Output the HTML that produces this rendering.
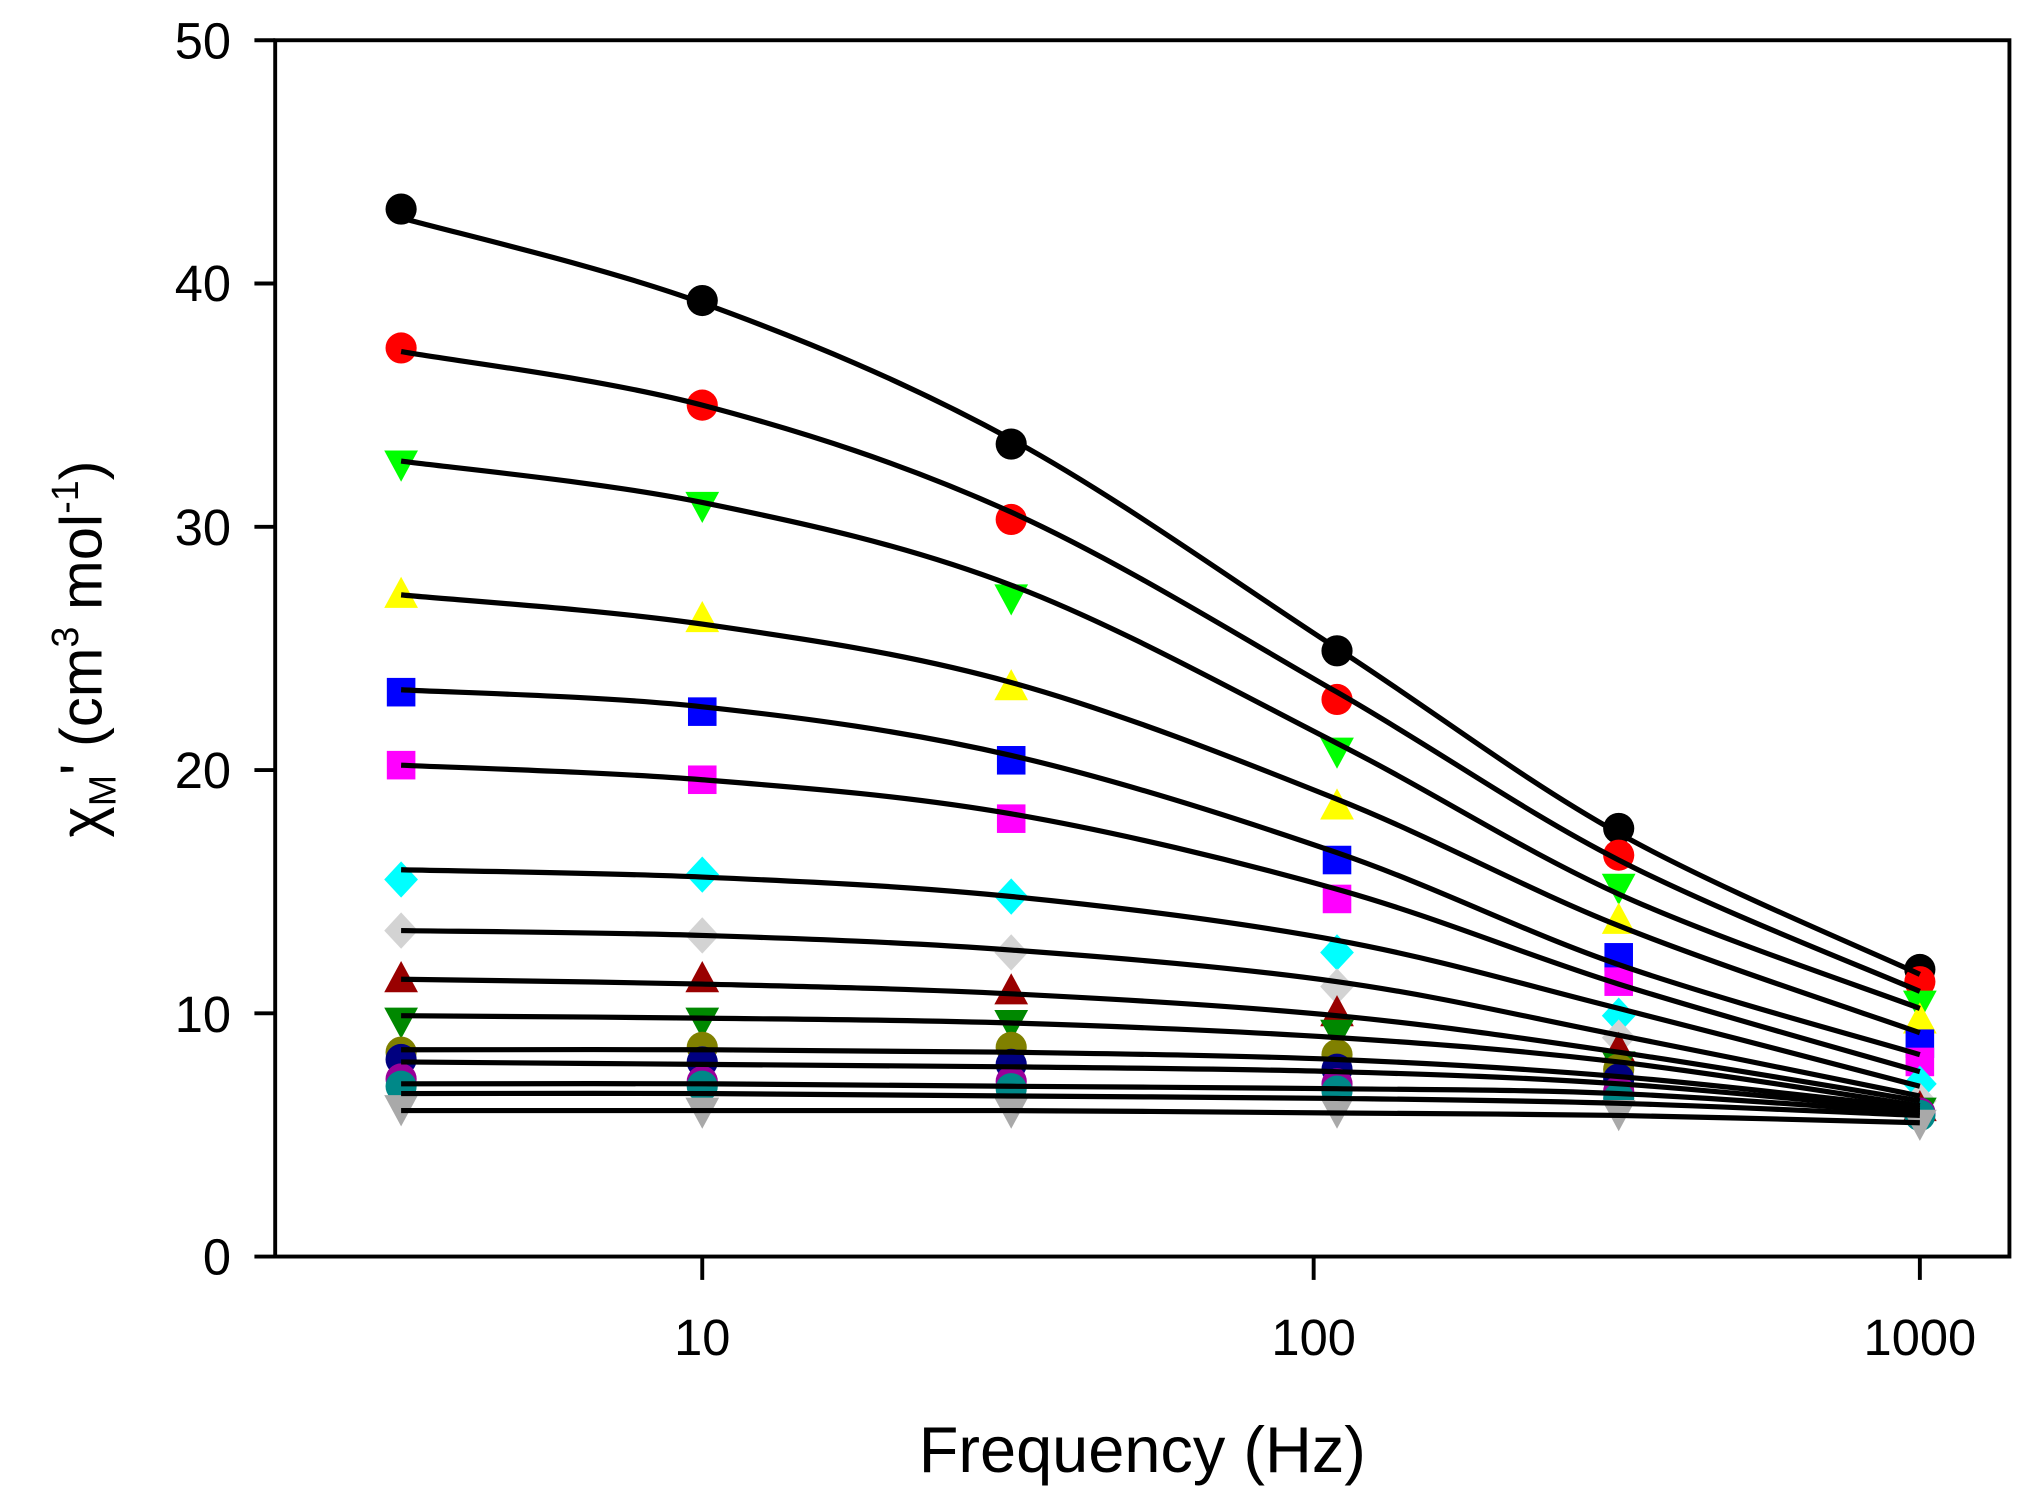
<!DOCTYPE html>
<html><head><meta charset="utf-8"><style>html,body{margin:0;padding:0;background:#fff}svg{display:block}</style></head>
<body>
<svg id="s" width="2025" height="1495" viewBox="0 0 1560 1151.7" xmlns="http://www.w3.org/2000/svg" font-family="Liberation Sans, Arial, sans-serif">
<rect width="1560" height="1152" fill="#fff"/>
<g id="markers"></g>
<g id="lines" fill="none" stroke="#000" stroke-width="4"></g>
<rect x="212" y="31" width="1336" height="937" fill="none" stroke="#000" stroke-width="3"/>
<g stroke="#000" stroke-width="3">
<line x1="196" y1="31" x2="212" y2="31"/><line x1="196" y1="218.4" x2="212" y2="218.4"/><line x1="196" y1="405.8" x2="212" y2="405.8"/><line x1="196" y1="593.2" x2="212" y2="593.2"/><line x1="196" y1="780.6" x2="212" y2="780.6"/><line x1="196" y1="968" x2="212" y2="968"/>
<line x1="541" y1="968" x2="541" y2="986"/><line x1="1012" y1="968" x2="1012" y2="986"/><line x1="1479" y1="968" x2="1479" y2="986"/>
</g>
<g font-size="39" text-anchor="end" fill="#000">
<text x="178" y="45">50</text><text x="178" y="232">40</text><text x="178" y="420">30</text><text x="178" y="607">20</text><text x="178" y="795">10</text><text x="178" y="982">0</text>
</g>
<g font-size="39" text-anchor="middle" fill="#000">
<text x="541" y="1044">10</text><text x="1012" y="1044">100</text><text x="1479" y="1044">1000</text>
</g>
<text x="880" y="1134" font-size="50" text-anchor="middle">Frequency (Hz)</text>
<text transform="translate(78,500) rotate(-90)" font-size="46" text-anchor="middle">χ<tspan font-size="29" dy="11">M</tspan><tspan dy="-11">' (cm</tspan><tspan font-size="29" dy="-18">3</tspan><tspan dy="18"> mol</tspan><tspan font-size="29" dy="-18">-1</tspan><tspan dy="18">)</tspan></text>
</svg>
<script>
var X=[309,541,779,1030,1247,1479];
function Y(v){return 968-v*18.74;}
var S=[
["c","#000",[43.06,39.3,33.4,24.9,17.6,11.8],[42.7,39.2,33.6,25.0,17.4,11.6]],
["c","#f00",[37.35,35.0,30.3,22.9,16.5,11.3],[37.2,35.0,30.6,23.2,16.3,10.9]],
["d","#0f0",[32.6,30.9,27.1,20.8,15.2,10.4],[32.7,31.0,27.6,21.1,14.9,10.2]],
["u","#ff0",[27.2,26.2,23.4,18.5,13.8,9.7],[27.2,26.0,23.6,18.8,13.6,9.2]],
["s","#00f",[23.2,22.4,20.4,16.3,12.3,8.75],[23.3,22.6,20.6,16.6,12.0,8.3]],
["s","#f0f",[20.2,19.6,18.0,14.7,11.3,8.0],[20.2,19.6,18.2,15.1,11.2,7.6]],
["r","#0ff",[15.5,15.7,14.8,12.5,9.9,7.1],[15.9,15.6,14.8,13.0,10.2,7.0]],
["r","#d3d3d3",[13.4,13.2,12.5,11.1,9.0,6.4],[13.4,13.2,12.6,11.3,9.1,6.6]],
["u","#900",[11.4,11.4,10.9,10.0,8.5,6.1],[11.4,11.2,10.8,9.9,8.4,6.4]],
["d","#080",[9.7,9.7,9.6,9.2,7.9,6.0],[9.9,9.8,9.6,9.0,8.0,6.2]],
["c","#808000",[8.4,8.6,8.6,8.3,7.7,5.9],[8.5,8.5,8.4,8.1,7.4,6.1]],
["c","#000080",[8.1,8.0,7.9,7.7,7.3,5.9],[8.0,7.9,7.8,7.6,7.1,6.0]],
["c","#909",[7.3,7.2,7.2,7.1,6.8,5.9],[7.1,7.1,7.0,6.9,6.7,5.9]],
["c","#088",[7.0,7.0,6.9,6.8,6.5,5.8],[6.7,6.7,6.6,6.5,6.3,5.8]],
["d","#a9a9a9",[6.1,6.0,6.0,6.0,5.9,5.5],[6.0,6.0,6.0,5.9,5.8,5.5]]
];
var m="",l="",r=12;
S.forEach(function(s){
 s[2].forEach(function(v,i){var x=X[i],y=Y(v),c=s[1];
  if(s[0]=="c")m+='<circle cx="'+x+'" cy="'+y+'" r="'+r+'" fill="'+c+'"/>';
  else if(s[0]=="s")m+='<rect x="'+(x-11)+'" y="'+(y-11)+'" width="22" height="22" fill="'+c+'"/>';
  else if(s[0]=="u")m+='<polygon points="'+x+','+(y-14)+' '+(x+13)+','+(y+10)+' '+(x-13)+','+(y+10)+'" fill="'+c+'"/>';
  else if(s[0]=="d")m+='<polygon points="'+x+','+(y+14)+' '+(x+13)+','+(y-10)+' '+(x-13)+','+(y-10)+'" fill="'+c+'"/>';
  else m+='<polygon points="'+x+','+(y-14)+' '+(x+13)+','+y+' '+x+','+(y+14)+' '+(x-13)+','+y+'" fill="'+c+'"/>';
 });
 var P=s[3].map(function(v,i){return [X[i],Y(v)];});
 var d="M"+P[0][0]+","+P[0][1];
 for(var i=0;i<P.length-1;i++){
  var p0=P[Math.max(i-1,0)],p1=P[i],p2=P[i+1],p3=P[Math.min(i+2,P.length-1)];
  var c1=[p1[0]+(p2[0]-p0[0])/6,p1[1]+(p2[1]-p0[1])/6],c2=[p2[0]-(p3[0]-p1[0])/6,p2[1]-(p3[1]-p1[1])/6];
  d+=" C"+c1+" "+c2+" "+p2;
 }
 l+='<path d="'+d+'"/>';
});
document.getElementById("markers").innerHTML=m;
document.getElementById("lines").innerHTML=l;
</script>
</body></html>
